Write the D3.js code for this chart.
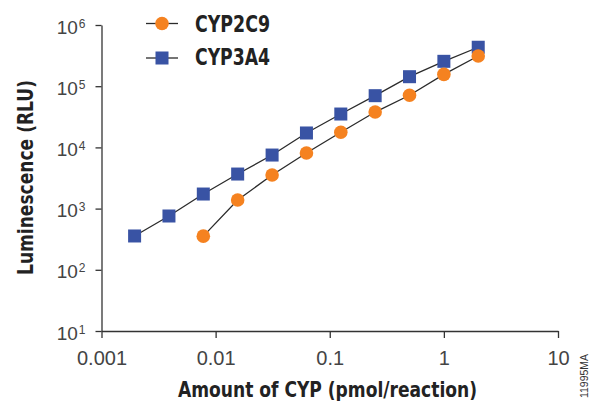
<!DOCTYPE html>
<html lang="en">
<head>
<meta charset="utf-8">
<script src="https://d3js.org/d3.v7.min.js"></script>
<style>
  body { margin: 0; background: #fff; }
  .tick text { font-family: "Liberation Sans", Arial, sans-serif; fill: #444; }
  .bold { font-family: "Liberation Sans Narrow", "DejaVu Sans Condensed", sans-serif; font-weight: bold; fill: #222; }
</style>
</head>
<body>
<script>
// amount of CYP (pmol/reaction), two-fold dilutions
var amount3A4 = [0.00195, 0.0039, 0.0078, 0.0156, 0.03125, 0.0625, 0.125, 0.25, 0.5, 1, 2];
var rlu3A4 = [357, 757, 1730, 3670, 7500, 17200, 35100, 70000, 143000, 255000, 433000];
var amount2C9 = [0.0078, 0.0156, 0.03125, 0.0625, 0.125, 0.25, 0.5, 1, 2];
var rlu2C9 = [355, 1380, 3540, 8100, 17700, 37800, 71000, 156000, 311000];
var xTicks = [0.001, 0.01, 0.1, 1, 10];
var xTickLabels = ["0.001", "0.01", "0.1", "1", "10"];
var yTicks = [10, 100, 1000, 10000, 100000, 1000000];
var yExp = ["1", "2", "3", "4", "5", "6"];
var seriesNames = ["CYP2C9", "CYP3A4"];

var width = 589, height = 403;
var svg = d3.select("body").append("svg")
    .attr("width", width)
    .attr("height", height);

var x = d3.scaleLog().domain([0.001, 10]).range([101.5, 558]);
var y = d3.scaleLog().domain([10, 1e6]).range([331, 25]);

// x axis
var gx = svg.append("g")
    .attr("transform", "translate(0," + 331 + ")")
    .call(d3.axisBottom(x).tickValues(xTicks).tickSize(7).tickSizeOuter(0)
        .tickFormat(function(d, i) { return xTickLabels[i]; }));
gx.select(".domain").attr("stroke", "#333").attr("stroke-width", 1.3);
gx.selectAll(".tick line").attr("stroke", "#333").attr("stroke-width", 1.3);
gx.selectAll(".tick text").attr("font-size", 20).attr("y", 34).attr("dy", 0);

// y axis
var gy = svg.append("g")
    .attr("transform", "translate(" + 101.5 + ",0)")
    .call(d3.axisLeft(y).tickValues(yTicks).tickSize(6).tickSizeOuter(0).tickFormat(""));
gy.select(".domain").attr("stroke", "#333").attr("stroke-width", 1.3);
gy.selectAll(".tick line").attr("stroke", "#333").attr("stroke-width", 1.3);
gy.selectAll(".tick").each(function(d, i) {
  var t = d3.select(this).append("text")
      .attr("x", -16)
      .attr("y", 8)
      .attr("text-anchor", "end")
      .attr("font-size", 19);
  t.append("tspan").text("10");
  t.append("tspan").attr("font-size", 12).attr("dy", -6).attr("dx", 1).text(yExp[i]);
});

// lines
var line = d3.line()
    .x(function(d) { return x(d[0]); })
    .y(function(d) { return y(d[1]); });

var data2C9 = d3.zip(amount2C9, rlu2C9);
var data3A4 = d3.zip(amount3A4, rlu3A4);

svg.append("path").datum(data3A4).attr("d", line)
    .attr("fill", "none").attr("stroke", "#2b2b2b").attr("stroke-width", 1.3);
svg.append("path").datum(data2C9).attr("d", line)
    .attr("fill", "none").attr("stroke", "#2b2b2b").attr("stroke-width", 1.3);

var sq = 13;
svg.selectAll(".sq").data(data3A4).enter().append("rect")
    .attr("x", function(d) { return x(d[0]) - sq / 2; })
    .attr("y", function(d) { return y(d[1]) - sq / 2; })
    .attr("width", sq).attr("height", sq)
    .attr("fill", "#3953a4");
svg.selectAll(".dot").data(data2C9).enter().append("circle")
    .attr("cx", function(d) { return x(d[0]); })
    .attr("cy", function(d) { return y(d[1]); })
    .attr("r", 6.8)
    .attr("fill", "#f58220");

// legend
var legend = svg.append("g");
[[23.5, 32], [58, 65]].forEach(function(p, i) {
  var ly = p[0];
  legend.append("line").attr("x1", 146).attr("x2", 178).attr("y1", ly).attr("y2", ly)
      .attr("stroke", "#2b2b2b").attr("stroke-width", 1.3);
  if (i === 0) {
    legend.append("circle").attr("cx", 162).attr("cy", ly).attr("r", 6.8).attr("fill", "#f58220");
  } else {
    legend.append("rect").attr("x", 162 - sq / 2).attr("y", ly - sq / 2)
        .attr("width", sq).attr("height", sq).attr("fill", "#3953a4");
  }
  legend.append("text").attr("class", "bold")
      .attr("x", 195).attr("y", p[1])
      .attr("font-size", 23)
      .attr("textLength", 75).attr("lengthAdjust", "spacingAndGlyphs")
      .text(seriesNames[i]);
});

// axis titles
svg.append("text").attr("class", "bold")
    .attr("x", 178).attr("y", 397)
    .attr("font-size", 21)
    .attr("textLength", 299).attr("lengthAdjust", "spacingAndGlyphs")
    .text("Amount of CYP (pmol/reaction)");
svg.append("text").attr("class", "bold")
    .attr("transform", "translate(33,275) rotate(-90)")
    .attr("font-size", 21)
    .attr("textLength", 195).attr("lengthAdjust", "spacingAndGlyphs")
    .text("Luminescence (RLU)");

svg.append("text")
    .attr("transform", "translate(588,398) rotate(-90)")
    .attr("font-family", "Liberation Sans, Arial, sans-serif")
    .attr("font-size", 10).attr("fill", "#333")
    .attr("textLength", 44).attr("lengthAdjust", "spacingAndGlyphs")
    .text("11995MA");
</script>
</body>
</html>
